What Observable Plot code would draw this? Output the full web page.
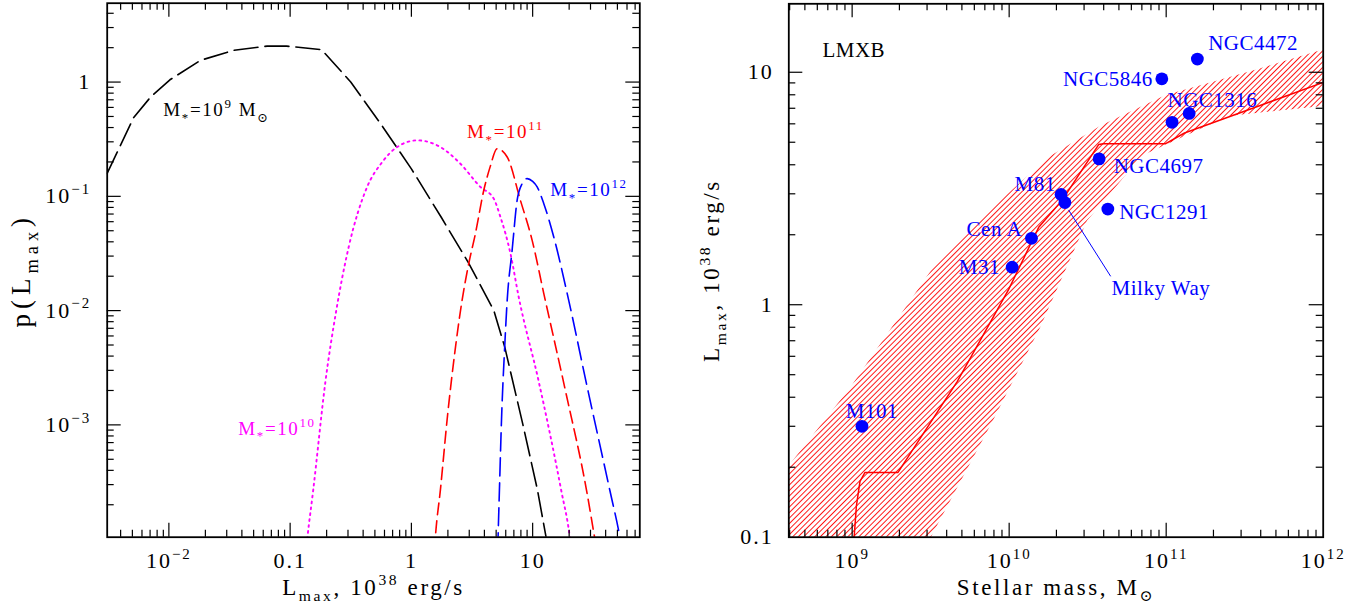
<!DOCTYPE html>
<html><head><meta charset="utf-8">
<script src="https://cdn.jsdelivr.net/npm/d3@7"></script>
<script src="https://cdn.jsdelivr.net/npm/@observablehq/plot@0.6"></script>
<style>
html,body{margin:0;padding:0;background:#fff;}
#wrap{position:relative;width:1371px;height:610px;overflow:hidden;background:#fff;}
#wrap svg{position:absolute;top:0;}
svg text{letter-spacing:2px;}
g[font-size="23"] text, g[font-size="23px"] text{letter-spacing:2.6px;}
g[font-size="27"] text, g[font-size="27px"] text{letter-spacing:5px;}
g[font-size="19"] text, g[font-size="19px"] text{letter-spacing:1.6px;}
g[font-size="21"] text, g[font-size="21px"] text{letter-spacing:0.5px;}
</style></head><body><div id="wrap"></div>
<script>
// ---------- LEFT PANEL DATA: p(Lmax) for several stellar masses ----------
const m9L  = [0.00309,0.00513,0.00708,0.0102,0.0182,0.0339,0.0646,0.0933,0.182,0.316,0.562,1.0,1.778,2.95,4.79,5.89,8.32,10.96,12.88,14.1];
const m9P  = [0.158,0.490,0.741,1.047,1.549,1.892,2.065,2.065,1.919,1.0,0.427,0.174,0.0646,0.0263,0.0100,0.00479,0.00100,0.000269,0.000105,0.000063];
const m10L = [0.135,0.139,0.155,0.196,0.240,0.304,0.431,0.575,0.762,1.114,1.734,2.535,3.707,4.775,5.42,6.56,7.67,11.17,17.18,20.23,20.9];
const m10P = [7.9e-5,1.05e-4,2.69e-4,2.45e-3,0.0100,0.0360,0.1205,0.1995,0.270,0.309,0.270,0.193,0.1208,0.0955,0.0661,0.0316,0.0132,0.00245,2.69e-4,1.05e-4,7.9e-5];
const m11L = [1.549,1.578,1.734,1.995,2.291,2.618,2.972,3.373,3.954,4.467,5.093,6.166,7.925,9.908,12.36,18.62,27.8,32.36,33.9];
const m11P = [7.9e-5,1.05e-4,2.69e-4,1.26e-3,4.47e-3,0.0123,0.0258,0.0472,0.113,0.182,0.261,0.221,0.0923,0.0412,0.0141,2.0e-3,2.69e-4,1.05e-4,7.9e-5];
const m12L = [5.152,5.188,5.321,5.559,5.861,6.166,6.776,7.447,8.185,9.016,10.0,10.89,12.36,14.93,19.28,28.18,43.25,52.36,54.95];
const m12P = [7.9e-5,1.05e-4,2.69e-4,1.26e-3,4.47e-3,0.0123,0.0339,0.0923,0.129,0.143,0.135,0.121,0.0863,0.0441,0.0141,2.14e-3,2.69e-4,1.05e-4,7.9e-5];
const leftLabels = ["M_{*}=10^{9} M_{⊙}","M_{*}=10^{10}","M_{*}=10^{11}","M_{*}=10^{12}"];
const leftLabelL = [0.009,0.0374,2.88,14.0];
const leftLabelP = [0.565,9.3e-4,0.365,0.113];
const leftXTicks = [0.01,0.1,1,10];
const leftXTickLabels = ["10^{−2}","0.1","1","10"];
const leftYTicks = [0.001,0.01,0.1,1];
const leftYTickLabels = ["10^{−3}","10^{−2}","10^{−1}","1"];

// ---------- RIGHT PANEL DATA: Lmax vs stellar mass ----------
const galaxyNames = ["M101","M31","Cen A","M81","Milky Way","NGC4697","NGC1291","NGC5846","NGC1316a","NGC1316","NGC4472"];
const galaxyMass  = [1.155e9,1.045e10,1.387e10,2.14e10,2.265e10,3.74e10,4.25e10,9.38e10,1.09e11,1.40e11,1.58e11];
const galaxyLmax  = [0.30,1.45,1.93,2.98,2.75,4.24,2.58,9.37,6.09,6.65,11.4];
const modelMass = [1.023e9,1.03e9,1.064e9,1.122e9,1.208e9,1.959e9,4.667e9,9.93e9,1.542e10,2.178e10,3.715e10,3.98e10,9.86e10,1.309e11,3.926e11,1e12];
const modelLmax = [0.089,0.1,0.136,0.174,0.19,0.19,0.467,1.164,2.153,2.818,4.887,4.92,4.92,5.48,7.18,9.04];
const bandUpperM = [3.16e8,9.77e8,3.39e9,8.91e9,1.862e10,3.89e10,1e11,3.63e11,1.259e12];
const bandUpperL = [0.166,0.437,1.479,2.818,4.365,5.888,7.943,10.16,13.03];
const bandLowerM = [3.98e8,1.585e9,3.2e9,7.94e9,1.585e10,3.16e10,7.08e10,2.51e11,1.259e12];
const bandLowerL = [0.00794,0.0427,0.1,0.316,0.794,2.29,4.365,6.457,7.244];
const rightLabels = ["NGC4472","NGC5846","NGC1316","NGC4697","NGC1291","M81","Cen A","M31","Milky Way","M101"];
const rightLabelM = [1.85e11,8.22e10,1.02e11,4.63e10,5.02e10,1.98e10,1.21e10,8.75e9,4.49e10,9.1e8];
const rightLabelL = [13.3,9.37,7.61,3.95,2.49,3.29,2.11,1.447,1.175,0.349];
const rightLabelAnchor = ["start","end","start","start","start","end","end","end","start","start"];
const rightXTicks = [1e9,1e10,1e11,1e12];
const rightXTickLabels = ["10^{9}","10^{10}","10^{11}","10^{12}"];
const rightYTicks = [0.1,1,10];
const rightYTickLabels = ["0.1","1","10"];

// ---------- helpers ----------
const FONT = "'Liberation Serif', 'DejaVu Serif', serif";
function logTicks(lo, hi) {
  const major = [], minor = [];
  for (let e = Math.floor(Math.log10(lo)) - 1; e <= Math.ceil(Math.log10(hi)); e++) {
    for (let k = 1; k < 10; k++) {
      const v = +(k * Math.pow(10, e)).toPrecision(6);
      if (v < lo * 1.0005 || v > hi * 0.9995) continue;
      (k === 1 ? major : minor).push(v);
    }
  }
  return {major, minor};
}
function inward(xd, yd, W, H) {
  const xt = logTicks(xd[0], xd[1]), yt = logTicks(yd[0], yd[1]);
  const s = {stroke: "black", strokeWidth: 1.2};
  const out = [];
  [[xt.major, 14], [xt.minor, 7]].forEach(([v, L]) => {
    out.push(Plot.tickX(v, {x: d => d, insetTop: H - L, ...s}));
    out.push(Plot.tickX(v, {x: d => d, insetBottom: H - L, ...s}));
  });
  [[yt.major, 14], [yt.minor, 7]].forEach(([v, L]) => {
    out.push(Plot.tickY(v, {y: d => d, insetRight: W - L, ...s}));
    out.push(Plot.tickY(v, {y: d => d, insetLeft: W - L, ...s}));
  });
  return out;
}
function richify(root) {
  const SC = 0.68;
  root.querySelectorAll("text").forEach(t => {
    const s = t.textContent;
    if (!/[\^_]\{/.test(s)) return;
    while (t.firstChild) t.removeChild(t.firstChild);
    const re = /([\^_])\{([^}]*)\}|([^\^_]+)/g;
    let m, cur = 0;
    while ((m = re.exec(s))) {
      const ts = document.createElementNS("http://www.w3.org/2000/svg", "tspan");
      let target, scale;
      if (m[3] !== undefined) { target = 0; scale = 1; ts.textContent = m[3]; }
      else {
        scale = SC; target = m[1] === "^" ? -0.42 : 0.3;
        ts.textContent = m[2];
        ts.style.fontSize = SC + "em";
      }
      const d = target - cur;
      if (Math.abs(d) > 1e-6) ts.setAttribute("dy", (d / scale).toFixed(3) + "em");
      cur = target;
      t.appendChild(ts);
    }
  });
}
const series = (L, P) => L.map((l, i) => ({L: l, p: P[i]}));

// ---------- LEFT PLOT ----------
const LW = 700, LH = 610;
const lm = {marginLeft: 106.7, marginRight: 60.7, marginTop: 2.7, marginBottom: 73.3};
const lxd = [0.0031, 76.5], lyd = [1.04e-4, 4.9];
const lW = LW - lm.marginLeft - lm.marginRight, lH = LH - lm.marginTop - lm.marginBottom;
const leftAnn = leftLabels.map((t, i) => ({t, L: leftLabelL[i], p: leftLabelP[i]}));
const leftColors = ["black", "#ff00ff", "#ff0000", "blue"];
const left = Plot.plot({
  width: LW, height: LH, ...lm,
  style: {fontFamily: FONT, fontSize: "22px", background: "transparent", overflow: "visible"},
  x: {type: "log", domain: lxd},
  y: {type: "log", domain: lyd},
  marks: [
    Plot.line(series(m9L, m9P), {x: "L", y: "p", stroke: "black", strokeWidth: 1.6, strokeDasharray: "24,7", clip: true}),
    Plot.line(series(m10L, m10P), {x: "L", y: "p", stroke: "#ff00ff", strokeWidth: 1.9, strokeDasharray: "1.8,4.2", curve: "monotone-x", clip: true}),
    Plot.line(series(m11L, m11P), {x: "L", y: "p", stroke: "#ff0000", strokeWidth: 1.6, strokeDasharray: "12,6", curve: "monotone-x", clip: true}),
    Plot.line(series(m12L, m12P), {x: "L", y: "p", stroke: "#0000ff", strokeWidth: 1.6, strokeDasharray: "18,7", curve: "monotone-x", clip: true}),
    ...leftAnn.map((a, i) => Plot.text([a], {x: "L", y: "p", text: "t", textAnchor: "start", fill: leftColors[i], fontSize: 19})),
    ...inward(lxd, lyd, lW, lH),
    Plot.frame({stroke: "black", strokeWidth: 1.8}),
    Plot.axisX(leftXTicks, {tickSize: 0, tickPadding: 15, tickFormat: d => leftXTickLabels[leftXTicks.indexOf(d)], label: null, fontSize: 22}),
    Plot.axisY(leftYTicks, {tickSize: 0, tickPadding: 16, tickFormat: d => leftYTickLabels[leftYTicks.indexOf(d)], label: null, fontSize: 22}),
    Plot.text(["L_{max}, 10^{38} erg/s"], {frameAnchor: "bottom", dy: 50, lineAnchor: "middle", textAnchor: "middle", text: d => d, fontSize: 23}),
    Plot.text(["p(L_{max})"], {frameAnchor: "left", dx: -86, rotate: -90, lineAnchor: "middle", textAnchor: "middle", text: d => d, fontSize: 27})
  ]
});
left.style.left = "0px";

// ---------- RIGHT PLOT ----------
const RW = 671, RH = 610;
const rm = {marginLeft: 88.3, marginRight: 48.3, marginTop: 3.3, marginBottom: 73.3};
const rxd = [3.95e8, 1e12], ryd = [0.1, 19.7];
const rW = RW - rm.marginLeft - rm.marginRight, rH = RH - rm.marginTop - rm.marginBottom;
const band = bandUpperM.map((m, i) => ({xu: m, yu: bandUpperL[i], xl: bandLowerM[i], yl: bandLowerL[i]}));
const model = modelMass.map((m, i) => ({M: m, L: modelLmax[i]}));
const gal = galaxyNames.map((n, i) => ({n, M: galaxyMass[i], L: galaxyLmax[i]}));
const rAnn = rightLabels.map((t, i) => ({t, M: rightLabelM[i], L: rightLabelL[i], a: rightLabelAnchor[i]}));
const mw = gal.find(g => g.n === "Milky Way");
const right = Plot.plot({
  width: RW, height: RH, ...rm,
  style: {fontFamily: FONT, fontSize: "22px", background: "transparent", overflow: "visible"},
  x: {type: "log", domain: rxd},
  y: {type: "log", domain: ryd},
  marks: [
    Plot.area(band, {x1: "xl", y1: "yl", x2: "xu", y2: "yu", fill: "url(#hatch)", clip: true}),
    Plot.line(model, {x: "M", y: "L", stroke: "#ff0000", strokeWidth: 1.5, clip: true}),
    Plot.link([mw], {x1: d => d.M * 1.055, y1: d => d.L * 0.93, x2: () => 4.43e10, y2: () => 1.325, stroke: "#0000ff", strokeWidth: 1}),
    Plot.dot(gal, {x: "M", y: "L", r: 6.4, fill: "#0000ff"}),
    ...["start", "end"].map(a => Plot.text(rAnn.filter(d => d.a === a), {x: "M", y: "L", text: "t", textAnchor: a, fill: "#0000ff", fontSize: 21})),
    Plot.text(["LMXB"], {x: () => 6.47e8, y: () => 12.4, text: d => d, textAnchor: "start", fill: "black", fontSize: 21}),
    ...inward(rxd, ryd, rW, rH),
    Plot.frame({stroke: "black", strokeWidth: 1.8}),
    Plot.axisX(rightXTicks, {tickSize: 0, tickPadding: 15, tickFormat: d => rightXTickLabels[rightXTicks.indexOf(d)], label: null, fontSize: 22}),
    Plot.axisY(rightYTicks, {tickSize: 0, tickPadding: 15, tickFormat: d => rightYTickLabels[rightYTicks.indexOf(d)], label: null, fontSize: 22}),
    Plot.text(["Stellar mass, M_{⊙}"], {frameAnchor: "bottom", dy: 50, lineAnchor: "middle", textAnchor: "middle", text: d => d, fontSize: 23}),
    Plot.text(["L_{max}, 10^{38} erg/s"], {frameAnchor: "left", dx: -77, rotate: -90, lineAnchor: "middle", textAnchor: "middle", text: d => d, fontSize: 23})
  ]
});
right.style.left = "700px";

// hatch pattern for the band
const defs = d3.select(right).insert("defs", ":first-child");
defs.append("pattern").attr("id", "hatch").attr("patternUnits", "userSpaceOnUse")
  .attr("width", 3.9).attr("height", 3.9).attr("patternTransform", "rotate(45)")
  .append("line").attr("x1", 0.5).attr("y1", 0).attr("x2", 0.5).attr("y2", 3.9)
  .attr("stroke", "#ff0000").attr("stroke-width", 0.9);

const wrap = document.getElementById("wrap");
wrap.appendChild(left);
wrap.appendChild(right);
richify(left);
richify(right);
</script></body></html>
